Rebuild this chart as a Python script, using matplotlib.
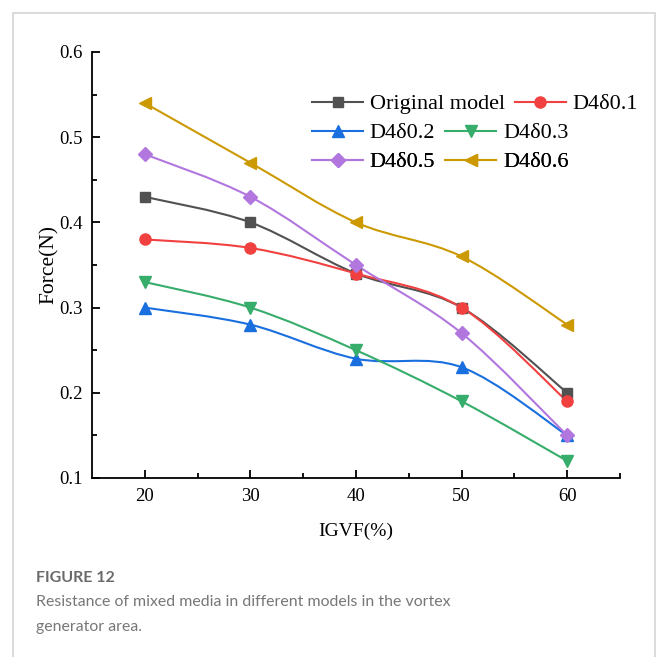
import numpy as np
import matplotlib
matplotlib.use("Agg")
import matplotlib.pyplot as plt
from matplotlib.path import Path
from matplotlib.patches import PathPatch, Rectangle
from matplotlib.lines import Line2D

# ---- data ----
igvf = [20, 30, 40, 50, 60]
original = [0.43, 0.40, 0.34, 0.30, 0.20]
d01 = [0.38, 0.37, 0.34, 0.30, 0.19]
d02 = [0.30, 0.28, 0.24, 0.23, 0.15]
d03 = [0.33, 0.30, 0.25, 0.19, 0.12]
d05 = [0.48, 0.43, 0.35, 0.27, 0.15]
d06 = [0.54, 0.47, 0.40, 0.36, 0.28]
series_names = ["Original model", "D4δ0.1", "D4δ0.2", "D4δ0.3", "D4δ0.5", "D4δ0.6"]
yticks = [0.1, 0.2, 0.3, 0.4, 0.5, 0.6]
xticks = [20, 30, 40, 50, 60]

colors = ["#515151", "#F14040", "#1A6FDF", "#37AD6B", "#B177DE", "#CC9900"]
markers = ["s", "o", "^", "v", "D", "<"]
msizes = [7, 8, 8, 8, 7, 8]
series = [original, d01, d02, d03, d05, d06]

serif = ["Liberation Serif", "DejaVu Serif"]

fig = plt.figure(figsize=(6.56, 6.57), dpi=100)
# card border
fig.add_artist(Rectangle((13 / 656, -0.05), (655 - 13) / 656, 1 - 13 / 657 + 0.05,
                         transform=fig.transFigure, fill=False,
                         edgecolor="#d4d4d4", linewidth=1.2))

ax = fig.add_axes([92 / 656, 1 - 478 / 657, (620 - 92) / 656, (478 - 52) / 657])


def smooth_path(xs, ys):
    p = np.column_stack([xs, ys]).astype(float)
    ext = np.vstack([p[0], p, p[-1]])
    verts = [p[0]]
    codes = [Path.MOVETO]
    for i in range(len(p) - 1):
        p0, p1, p2, p3 = ext[i], ext[i + 1], ext[i + 2], ext[i + 3]
        c1 = p1 + (p2 - p0) / 6.0
        c2 = p2 - (p3 - p1) / 6.0
        verts += [c1, c2, p2]
        codes += [Path.CURVE4] * 3
    return Path(np.array(verts), codes)


handles = []
for ys, c, m, ms, name in zip(series, colors, markers, msizes, series_names):
    ax.add_patch(PathPatch(smooth_path(igvf, ys), fill=False, edgecolor=c,
                           linewidth=1.5, zorder=2))
    ax.plot(igvf, ys, linestyle="none", marker=m, color=c, markersize=ms, zorder=3)
    handles.append(Line2D([], [], color=c, marker=m, markersize=ms, linewidth=1.5))

ax.set_xlim(15, 65)
ax.set_ylim(0.1, 0.6)
ax.set_xticks(xticks)
ax.set_yticks(yticks)
ax.set_xticks([25, 35, 45, 55, 65], minor=True)
ax.set_yticks([0.15, 0.25, 0.35, 0.45, 0.55], minor=True)
ax.set_xticklabels([str(v) for v in xticks], fontfamily=serif, fontsize=13.5)
ax.set_yticklabels([f"{v:.1f}" for v in yticks], fontfamily=serif, fontsize=13.5)
ax.tick_params(which="major", direction="in", length=6, width=1.3, pad=7)
ax.tick_params(which="minor", direction="in", length=3.5, width=1.3)
for s in ["top", "right"]:
    ax.spines[s].set_visible(False)
for s in ["left", "bottom"]:
    ax.spines[s].set_linewidth(1.3)
ax.set_xlabel("IGVF(%)", fontfamily=serif, fontsize=14, labelpad=13)
ax.set_ylabel("Force(N)", fontfamily=serif, fontsize=15.5, labelpad=0)

# legend rows (row-wise layout as in the reference)
rows = [(0, 1), (2, 3), (4, 5)]
row_y = [104, 133, 162]
for (a, b), yy in zip(rows, row_y):
    lg = ax.legend([handles[a], handles[b]], [series_names[a], series_names[b]],
                   ncol=2, frameon=False, loc="center left",
                   bbox_to_anchor=(312 / 656, 1 - yy / 657),
                   bbox_transform=fig.transFigure,
                   prop={"family": serif, "size": 16},
                   handlelength=2.3, handletextpad=0.3, columnspacing=0.45,
                   borderpad=0, borderaxespad=0)
    ax.add_artist(lg)

# caption
fig.text(36 / 656, 1 - 578 / 657, "FIGURE 12", fontfamily="Lato",
         fontweight="bold", fontsize=11.5, color="#6a6a6a", va="center", ha="left")
fig.text(36 / 656, 1 - 602 / 657,
         "Resistance of mixed media in different models in the vortex",
         fontfamily="Lato", fontsize=11.4, color="#777777", va="center", ha="left")
fig.text(36 / 656, 1 - 627 / 657, "generator area.",
         fontfamily="Lato", fontsize=11.4, color="#777777", va="center", ha="left")

fig.savefig("out.png", dpi=100)
